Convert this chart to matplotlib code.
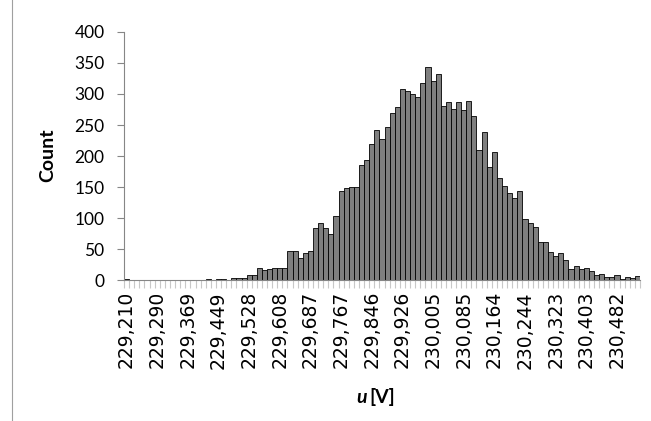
import numpy as np
import matplotlib.pyplot as plt
from matplotlib.lines import Line2D

plt.rcParams['font.family'] = ['Lato', 'DejaVu Sans']

# counts per bin (101 bins)
counts = [2, 0, 0, 0, 0, 0, 0, 0, 0, 0, 0, 0, 0, 0, 0, 0,
          2, 0, 2, 2, 0, 4, 4, 4, 8, 8,
          20, 16, 18, 20, 20, 20,
          47, 47, 35, 44, 47,
          84, 92, 84, 74, 103,
          144, 148, 150, 150,
          185, 194, 220, 242, 227, 247, 269, 279, 308, 305, 300, 295, 318,
          343, 321, 332, 281, 287, 276, 287, 274, 289, 264, 209, 238, 182,
          206, 165, 152, 141, 133, 144, 98, 92, 86, 61, 61, 45, 39, 43,
          32, 17, 22, 18, 20, 14, 8, 9, 5, 5, 8, 1, 5, 4, 6]

tick_labels = ['229,210', '229,290', '229,369', '229,449', '229,528', '229,608',
               '229,687', '229,767', '229,846', '229,926', '230,005', '230,085',
               '230,164', '230,244', '230,323', '230,403', '230,482']
label_step = 6

y_ticks = [0, 50, 100, 150, 200, 250, 300, 350, 400]

fig = plt.figure(figsize=(6.51, 4.21), dpi=100)
ax = fig.add_axes([0.1905, 0.3349, 0.7925, 0.5891])

x = np.arange(len(counts))
ax.bar(x, counts, width=1.0, color='#7f7f7f', edgecolor='black', linewidth=0.6)

ax.set_xlim(-0.5, len(counts) - 0.5)
ax.set_ylim(0, 400)
ax.set_yticks(y_ticks)
ax.set_yticklabels([str(v) for v in y_ticks],
                   family=['Liberation Sans Narrow', 'Lato'], fontsize=12.5)
ax.tick_params(axis='y', length=5, color='#868686', pad=9)

# minor ticks under every bar, labels every 6th bin
ax.set_xticks(np.arange(0, len(counts), label_step))
ax.set_xticklabels(tick_labels, rotation=90, fontsize=13.5, family='DejaVu Sans')
ax.set_xticks(np.arange(-0.5, len(counts), 1.0), minor=True)
ax.tick_params(axis='x', which='major', length=0, pad=8)
ax.tick_params(axis='x', which='minor', length=6, color='#c8c8c8', width=0.8)

for s in ['top', 'right']:
    ax.spines[s].set_visible(False)
ax.spines['left'].set_color('#868686')
ax.spines['bottom'].set_color('#868686')

fig.text(0.074, 0.632, 'Count', fontsize=14, fontweight='bold', rotation=90,
         ha='center', va='center')
fig.text(0.564, 0.057, 'u', fontsize=14, fontweight='bold', style='italic',
         ha='right', va='center')
fig.text(0.568, 0.057, '[V]', fontsize=14, fontweight='bold',
         ha='left', va='center')

# chart area border on the left
fig.add_artist(Line2D([0.019, 0.019], [0.0, 1.0], color='#a0a0a0', linewidth=0.8))

fig.savefig('out.png', dpi=100)
